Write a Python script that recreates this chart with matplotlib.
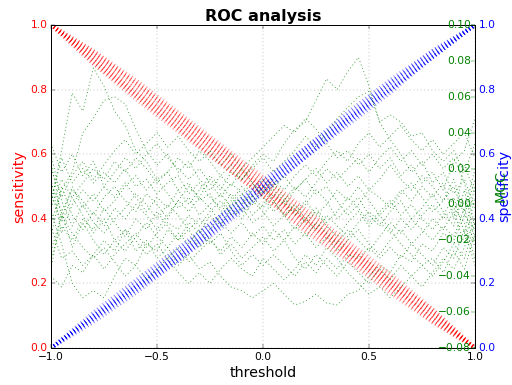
import matplotlib
matplotlib.use("Agg")
import matplotlib.pyplot as plt
import numpy as np

plt.style.use("classic")

# ---------------- data ----------------
# coarse threshold grid for sensitivity / specificity curves
thr_coarse = [-1.0, -0.8, -0.6, -0.4, -0.2, 0.0, 0.2, 0.4, 0.6, 0.8, 1.0]

sens_1 = [1.0, 0.92, 0.83, 0.73, 0.63, 0.53, 0.43, 0.33, 0.23, 0.12, 0.0]
sens_2 = [1.0, 0.90, 0.80, 0.70, 0.60, 0.50, 0.40, 0.30, 0.20, 0.10, 0.0]
sens_3 = [1.0, 0.88, 0.77, 0.67, 0.57, 0.47, 0.37, 0.28, 0.18, 0.08, 0.0]
sens_4 = [1.0, 0.89, 0.79, 0.69, 0.59, 0.49, 0.40, 0.31, 0.22, 0.11, 0.0]
sens_5 = [1.0, 0.91, 0.82, 0.72, 0.62, 0.52, 0.42, 0.32, 0.21, 0.11, 0.0]
sens_6 = [1.0, 0.89, 0.78, 0.68, 0.57, 0.47, 0.36, 0.27, 0.17, 0.08, 0.0]
sens_7 = [1.0, 0.91, 0.81, 0.71, 0.61, 0.50, 0.39, 0.29, 0.19, 0.10, 0.0]
sens_8 = [1.0, 0.90, 0.79, 0.70, 0.60, 0.49, 0.38, 0.29, 0.19, 0.09, 0.0]
sens_9 = [1.0, 0.92, 0.82, 0.72, 0.62, 0.51, 0.41, 0.31, 0.21, 0.12, 0.0]
sens_10 = [1.0, 0.88, 0.78, 0.68, 0.58, 0.48, 0.39, 0.30, 0.20, 0.09, 0.0]

spec_1 = [0.0, 0.08, 0.17, 0.27, 0.37, 0.48, 0.59, 0.70, 0.80, 0.90, 1.0]
spec_2 = [0.0, 0.10, 0.19, 0.29, 0.39, 0.50, 0.61, 0.71, 0.81, 0.91, 1.0]
spec_3 = [0.0, 0.09, 0.19, 0.28, 0.39, 0.50, 0.60, 0.71, 0.80, 0.90, 1.0]
spec_4 = [0.0, 0.11, 0.21, 0.31, 0.41, 0.52, 0.62, 0.73, 0.83, 0.92, 1.0]
spec_5 = [0.0, 0.09, 0.18, 0.27, 0.38, 0.49, 0.59, 0.70, 0.80, 0.90, 1.0]
spec_6 = [0.0, 0.10, 0.19, 0.29, 0.40, 0.50, 0.61, 0.71, 0.82, 0.91, 1.0]
spec_7 = [0.0, 0.10, 0.20, 0.30, 0.41, 0.51, 0.62, 0.72, 0.82, 0.92, 1.0]
spec_8 = [0.0, 0.09, 0.18, 0.28, 0.38, 0.48, 0.59, 0.69, 0.79, 0.90, 1.0]

# fine threshold grid for MCC curves
thr_fine = [-1.00, -0.95, -0.90, -0.85, -0.80, -0.75, -0.70, -0.65, -0.60, -0.55,
            -0.50, -0.45, -0.40, -0.35, -0.30, -0.25, -0.20, -0.15, -0.10, -0.05,
            0.00, 0.05, 0.10, 0.15, 0.20, 0.25, 0.30, 0.35, 0.40, 0.45,
            0.50, 0.55, 0.60, 0.65, 0.70, 0.75, 0.80, 0.85, 0.90, 0.95, 1.00]

mcc_01 = [0.000, 0.030, 0.062, 0.052, 0.076, 0.066, 0.052, 0.044, 0.030, 0.024, 0.014, 0.018, 0.008, 0.012, 0.002, 0.006, -0.004, 0.002, 0.010, 0.004, -0.002, 0.006, 0.000, 0.008, 0.014, 0.006, 0.010, 0.002, -0.006, 0.000, 0.008, 0.004, -0.002, 0.006, 0.012, 0.004, -0.004, 0.002, 0.010, -0.006, 0.014]
mcc_02 = [-0.010, 0.008, 0.018, 0.040, 0.048, 0.058, 0.060, 0.056, 0.042, 0.030, 0.022, 0.028, 0.018, 0.024, 0.014, 0.008, 0.016, 0.010, 0.020, 0.012, 0.004, -0.004, 0.002, -0.006, 0.000, 0.008, 0.002, -0.008, -0.002, 0.004, -0.006, -0.012, -0.004, 0.002, -0.008, -0.002, 0.006, -0.004, -0.012, 0.008, -0.020]
mcc_03 = [-0.004, -0.022, -0.044, -0.052, -0.048, -0.052, -0.040, -0.030, -0.034, -0.022, -0.026, -0.014, -0.020, -0.010, -0.016, -0.006, -0.012, -0.002, -0.008, 0.002, -0.004, -0.012, -0.006, -0.014, -0.008, -0.002, -0.010, -0.004, 0.004, -0.002, -0.010, -0.004, 0.002, -0.006, 0.000, -0.008, -0.014, -0.006, 0.004, -0.016, 0.010]
mcc_04 = [0.006, -0.010, 0.004, -0.006, -0.016, -0.008, -0.020, -0.014, -0.026, -0.020, -0.030, -0.024, -0.034, -0.028, -0.036, -0.032, -0.040, -0.046, -0.048, -0.052, -0.048, -0.044, -0.050, -0.056, -0.054, -0.050, -0.055, -0.056, -0.050, -0.048, -0.040, -0.034, -0.038, -0.028, -0.032, -0.022, -0.026, -0.016, -0.020, -0.006, -0.014]
mcc_05 = [0.012, -0.004, 0.008, 0.002, -0.006, 0.004, 0.010, 0.002, -0.004, 0.006, 0.000, -0.008, 0.002, 0.010, 0.004, 0.014, 0.008, 0.018, 0.014, 0.022, 0.028, 0.024, 0.034, 0.042, 0.046, 0.058, 0.070, 0.064, 0.074, 0.082, 0.066, 0.046, 0.036, 0.028, 0.018, 0.024, 0.012, 0.018, 0.006, 0.014, -0.002]
mcc_06 = [-0.002, 0.014, 0.004, 0.012, 0.020, 0.014, 0.024, 0.018, 0.026, 0.020, 0.012, 0.018, 0.026, 0.020, 0.030, 0.024, 0.016, 0.022, 0.014, 0.020, 0.026, 0.018, 0.024, 0.030, 0.038, 0.032, 0.040, 0.048, 0.054, 0.060, 0.063, 0.046, 0.050, 0.046, 0.038, 0.040, 0.030, 0.024, 0.030, 0.018, 0.034]
mcc_07 = [0.020, 0.004, 0.016, 0.024, 0.014, 0.022, 0.030, 0.036, 0.028, 0.034, 0.040, 0.032, 0.038, 0.030, 0.024, 0.030, 0.022, 0.028, 0.020, 0.026, 0.032, 0.038, 0.044, 0.040, 0.048, 0.042, 0.034, 0.026, 0.030, 0.022, 0.028, 0.020, 0.026, 0.016, 0.022, 0.012, 0.018, 0.008, 0.024, 0.030, 0.048]
mcc_08 = [-0.030, -0.012, -0.020, -0.008, -0.014, -0.002, -0.010, -0.018, -0.008, -0.014, -0.004, -0.012, -0.020, -0.014, -0.024, -0.018, -0.028, -0.022, -0.030, -0.024, -0.018, -0.026, -0.020, -0.030, -0.036, -0.028, -0.034, -0.040, -0.032, -0.038, -0.044, -0.036, -0.042, -0.034, -0.040, -0.046, -0.038, -0.030, -0.036, -0.024, -0.008]
mcc_09 = [0.024, -0.008, 0.010, -0.002, 0.006, -0.004, 0.002, 0.010, 0.016, 0.008, 0.014, 0.006, -0.002, 0.004, -0.006, 0.000, 0.006, -0.002, 0.004, -0.006, 0.000, 0.010, 0.016, 0.008, 0.014, 0.020, 0.012, 0.018, 0.010, 0.016, 0.008, 0.014, 0.022, 0.014, 0.008, 0.016, 0.010, 0.002, 0.014, -0.004, 0.020]
mcc_10 = [-0.018, 0.010, -0.006, -0.014, -0.004, -0.012, -0.002, -0.008, 0.000, -0.006, -0.014, -0.006, 0.002, -0.004, 0.004, -0.002, -0.010, -0.016, -0.010, -0.018, -0.012, -0.020, -0.014, -0.022, -0.016, -0.024, -0.018, -0.026, -0.020, -0.014, -0.022, -0.028, -0.020, -0.014, -0.022, -0.016, -0.008, -0.014, -0.004, -0.022, 0.004]
mcc_11 = [0.034, 0.018, 0.028, 0.016, 0.024, 0.010, 0.004, 0.012, 0.004, -0.004, 0.004, -0.002, 0.008, 0.000, 0.008, 0.016, 0.010, 0.004, -0.004, 0.004, 0.010, 0.002, -0.006, 0.000, -0.008, -0.014, -0.006, -0.012, -0.018, -0.010, -0.004, -0.010, -0.016, -0.008, -0.014, -0.006, 0.000, -0.008, -0.002, -0.010, -0.030]
mcc_12 = [-0.026, -0.006, -0.016, -0.024, -0.030, -0.024, -0.032, -0.040, -0.034, -0.042, -0.036, -0.030, -0.024, -0.032, -0.026, -0.020, -0.026, -0.018, -0.024, -0.016, -0.022, -0.014, -0.020, -0.012, -0.018, -0.010, -0.016, -0.022, -0.014, -0.020, -0.026, -0.018, -0.010, -0.016, -0.008, -0.014, -0.020, -0.012, -0.018, -0.002, -0.024]
mcc_13 = [0.002, 0.026, 0.012, 0.020, 0.012, 0.018, 0.012, 0.020, 0.010, 0.014, 0.006, 0.012, 0.016, 0.006, 0.012, 0.004, -0.002, 0.006, 0.000, 0.008, 0.014, 0.008, 0.002, 0.010, 0.004, 0.012, 0.020, 0.014, 0.020, 0.026, 0.018, 0.026, 0.032, 0.024, 0.030, 0.022, 0.028, 0.020, 0.026, 0.012, -0.012]
mcc_14 = [-0.012, -0.030, -0.026, -0.034, -0.028, -0.036, -0.028, -0.022, -0.016, -0.024, -0.016, -0.010, -0.014, -0.006, -0.012, -0.004, 0.002, -0.006, -0.002, -0.010, -0.006, 0.002, -0.006, -0.002, -0.010, -0.004, -0.012, -0.018, -0.010, -0.004, -0.012, -0.006, -0.014, -0.022, -0.028, -0.034, -0.030, -0.038, -0.026, -0.036, -0.016]
mcc_15 = [0.014, -0.016, 0.000, 0.008, 0.002, 0.010, 0.018, 0.026, 0.020, 0.028, 0.034, 0.026, 0.020, 0.014, 0.020, 0.012, 0.004, 0.012, 0.006, 0.012, 0.006, 0.012, 0.004, -0.004, 0.002, -0.006, 0.000, 0.008, 0.002, 0.010, 0.002, -0.006, 0.000, 0.008, 0.002, 0.010, 0.004, 0.012, -0.008, 0.022, 0.006]
mcc_16 = [-0.036, -0.004, -0.024, -0.010, -0.020, -0.028, -0.020, -0.026, -0.018, -0.010, -0.018, -0.024, -0.016, -0.022, -0.014, -0.022, -0.016, -0.026, -0.034, -0.028, -0.034, -0.028, -0.034, -0.040, -0.032, -0.038, -0.030, -0.036, -0.028, -0.030, -0.024, -0.030, -0.024, -0.030, -0.022, -0.028, -0.034, -0.024, -0.030, -0.014, -0.034]
mcc_17 = [0.028, 0.002, -0.012, 0.000, -0.010, -0.016, -0.008, -0.002, 0.006, 0.000, -0.008, 0.000, -0.006, -0.014, -0.008, -0.014, -0.006, 0.000, 0.006, 0.000, 0.008, 0.014, 0.008, 0.016, 0.022, 0.016, 0.024, 0.030, 0.024, 0.034, 0.040, 0.032, 0.038, 0.044, 0.036, 0.030, 0.036, 0.028, 0.034, 0.040, 0.026]
mcc_18 = [-0.040, -0.046, -0.034, -0.038, -0.028, -0.020, -0.026, -0.014, -0.020, -0.028, -0.022, -0.030, -0.038, -0.044, -0.038, -0.044, -0.036, -0.030, -0.036, -0.040, -0.030, -0.036, -0.042, -0.036, -0.028, -0.034, -0.024, -0.030, -0.038, -0.044, -0.050, -0.046, -0.052, -0.046, -0.040, -0.034, -0.040, -0.032, -0.022, -0.030, -0.010]

sens_curves = [sens_1, sens_2, sens_3, sens_4, sens_5, sens_6, sens_7, sens_8, sens_9, sens_10]
spec_curves = [spec_1, spec_2, spec_3, spec_4, spec_5, spec_6, spec_7, spec_8]
mcc_curves = [mcc_01, mcc_02, mcc_03, mcc_04, mcc_05, mcc_06, mcc_07, mcc_08, mcc_09,
              mcc_10, mcc_11, mcc_12, mcc_13, mcc_14, mcc_15, mcc_16, mcc_17, mcc_18]

x_ticks = [-1.0, -0.5, 0.0, 0.5, 1.0]
y_ticks = [0.0, 0.2, 0.4, 0.6, 0.8, 1.0]
mcc_ticks = [-0.08, -0.06, -0.04, -0.02, 0.00, 0.02, 0.04, 0.06, 0.08, 0.10]


def fmt(v, nd):
    return ("%.*f" % (nd, v)).replace("-", "\u2212")


# ---------------- figure ----------------
W, H, DPI = 512, 385, 64
fig = plt.figure(figsize=(W / DPI, H / DPI), dpi=DPI, facecolor="white")
ax = fig.add_axes([51 / W, 1 - 348 / H, 424 / W, 323 / H])
ax2 = ax.twinx()
ax3 = ax.twinx()

for s in sens_curves:
    ax.plot(thr_coarse, s, color="r", linestyle=":", linewidth=4, alpha=0.45)
for s in spec_curves:
    ax2.plot(thr_coarse, s, color="b", linestyle=":", linewidth=4, alpha=0.5)
for m in mcc_curves:
    ax3.plot(thr_fine, m, color="g", linestyle=":", linewidth=1, alpha=0.85)

ax.set_xlim(-1, 1)
ax.set_ylim(0, 1)
ax2.set_ylim(0, 1)
ax3.set_ylim(-0.08, 0.10)
ax.set_xticks(x_ticks)
ax.set_yticks(y_ticks)
ax2.set_yticks(y_ticks)
ax3.set_yticks(mcc_ticks)
ax.set_xticklabels([fmt(v, 1) for v in x_ticks])
ax.set_yticklabels([fmt(v, 1) for v in y_ticks])
ax2.set_yticklabels([fmt(v, 1) for v in y_ticks])
ax3.set_yticklabels([fmt(v, 2) for v in mcc_ticks])

ax.grid(True, color="0.45")

fs_tick = 12
ax.tick_params(axis="x", labelsize=fs_tick)
ax.tick_params(axis="y", labelsize=fs_tick, labelcolor="r")
ax2.tick_params(axis="y", labelsize=fs_tick, labelcolor="b")
ax3.tick_params(axis="y", labelsize=fs_tick, labelcolor="g", colors="g",
                direction="in", pad=-4.5)
for t in ax3.get_yticklabels():
    t.set_horizontalalignment("right")

ax.set_xlabel("threshold", fontsize=16)
ax.set_ylabel("sensitivity", color="r", fontsize=16)
ax2.set_ylabel("specificity", color="b", fontsize=16, labelpad=2)
ax3.set_ylabel("MCC", color="g", fontsize=16)
ax3.yaxis.set_label_coords(1.045, 0.5)
ax.set_title("ROC analysis", fontsize=18, fontweight="bold")

fig.savefig("out.png", dpi=DPI, facecolor="white")
